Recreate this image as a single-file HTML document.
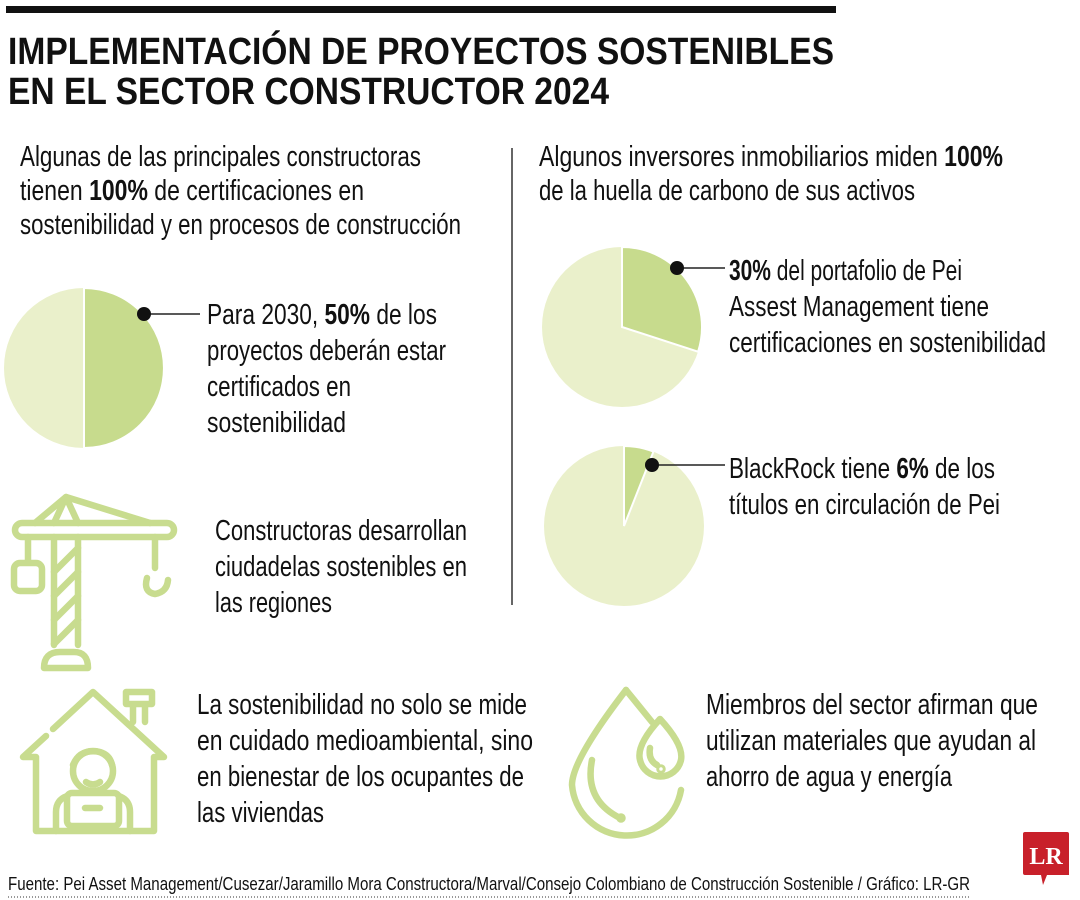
<!DOCTYPE html>
<html><head><meta charset="utf-8"><style>
html,body{margin:0;padding:0;background:#fff;}
svg{display:block;}
text{font-family:"Liberation Sans Narrow","Liberation Sans",sans-serif;fill:#111;}
.t{font-size:29px;}
.b{font-weight:bold;}
</style></head><body>
<svg id="chart" width="1080" height="900" viewBox="0 0 1080 900" xmlns="http://www.w3.org/2000/svg">
<rect x="6" y="6" width="830" height="7" fill="#111"/>
<text x="8" y="64" font-size="38" font-weight="bold" textLength="826" lengthAdjust="spacingAndGlyphs" style="font-family:'Liberation Sans',sans-serif">IMPLEMENTACIÓN DE PROYECTOS SOSTENIBLES</text>
<text x="8" y="104" font-size="38" font-weight="bold" textLength="601" lengthAdjust="spacingAndGlyphs" style="font-family:'Liberation Sans',sans-serif">EN EL SECTOR CONSTRUCTOR 2024</text>

<g>
<text class="t" x="20" y="166" textLength="401" lengthAdjust="spacingAndGlyphs">Algunas de las principales constructoras</text>
<text class="t" x="20" y="200" textLength="344" lengthAdjust="spacingAndGlyphs">tienen <tspan class="b">100%</tspan> de certificaciones en</text>
<text class="t" x="20" y="234" textLength="441" lengthAdjust="spacingAndGlyphs">sostenibilidad y en procesos de construcción</text>
</g>
<g>
<text class="t" x="539" y="166" textLength="464" lengthAdjust="spacingAndGlyphs">Algunos inversores inmobiliarios miden <tspan class="b">100%</tspan></text>
<text class="t" x="539" y="200" textLength="376" lengthAdjust="spacingAndGlyphs">de la huella de carbono de sus activos</text>
</g>
<line x1="512" y1="148" x2="512" y2="605" stroke="#333" stroke-width="1.5"/>

<g id="pies"></g>

<g>
<text class="t" x="207" y="324" textLength="230" lengthAdjust="spacingAndGlyphs">Para 2030, <tspan class="b">50%</tspan> de los</text>
<text class="t" x="207" y="360" textLength="239" lengthAdjust="spacingAndGlyphs">proyectos deberán estar</text>
<text class="t" x="207" y="396" textLength="144" lengthAdjust="spacingAndGlyphs">certificados en</text>
<text class="t" x="207" y="432" textLength="139" lengthAdjust="spacingAndGlyphs">sostenibilidad</text>
</g>
<g>
<text class="t" x="729" y="280" textLength="233" lengthAdjust="spacingAndGlyphs"><tspan class="b">30%</tspan> del portafolio de Pei</text>
<text class="t" x="729" y="316" textLength="260" lengthAdjust="spacingAndGlyphs">Assest Management tiene</text>
<text class="t" x="729" y="352" textLength="317" lengthAdjust="spacingAndGlyphs">certificaciones en sostenibilidad</text>
</g>
<g>
<text class="t" x="729" y="478" textLength="266" lengthAdjust="spacingAndGlyphs">BlackRock tiene <tspan class="b">6%</tspan> de los</text>
<text class="t" x="729" y="514" textLength="271" lengthAdjust="spacingAndGlyphs">títulos en circulación de Pei</text>
</g>

<g fill="none" stroke="#c8dc8f" stroke-width="6.5" stroke-linecap="round" stroke-linejoin="round">
<rect x="15" y="523" width="159" height="14" rx="7"/>
<path d="M35 523 L66 497 L150 523"/>
<path d="M54 537 V645 M78 537 V645 M54 523 L66 497 L78 523"/>
<path d="M78 548 L54 572 M78 572 L54 596 M78 596 L54 620 M78 620 L54 644"/>
<path d="M44 668 Q44 652 60 652 H74 Q88 652 88 668 Z"/>
<path d="M28 537 V560"/><rect x="14" y="563" width="28" height="28" rx="6"/>
<path d="M155 537 V568"/><path d="M147 578 Q143 592 155 594 Q167 592 168 580"/>
</g>
<g>
<text class="t" x="215" y="540" textLength="252" lengthAdjust="spacingAndGlyphs">Constructoras desarrollan</text>
<text class="t" x="215" y="576" textLength="252" lengthAdjust="spacingAndGlyphs">ciudadelas sostenibles en</text>
<text class="t" x="215" y="612" textLength="117" lengthAdjust="spacingAndGlyphs">las regiones</text>
</g>

<g fill="none" stroke="#c8dc8f" stroke-width="6.5" stroke-linecap="round" stroke-linejoin="round">
<path d="M53 729 L93 692 L164 757 L154 757 V831 H36 V757 L23 757 L46 736"/>
<path d="M133 722 V704 M126 692 H152 V704 H126 Z M145 704 V722"/>
<circle cx="93" cy="771" r="20"/>
<path d="M73 765 Q80 748 100 752 Q110 755 112 765"/>
<path d="M86 782 Q93 787 100 782"/>
<rect x="67" y="793" width="52" height="33" rx="5"/>
<path d="M85 808 H100 M56 831 V812 Q56 800 67 796 M130 831 V812 Q130 800 119 796"/>
</g>
<g>
<text class="t" x="197" y="714" textLength="330" lengthAdjust="spacingAndGlyphs">La sostenibilidad no solo se mide</text>
<text class="t" x="197" y="750" textLength="336" lengthAdjust="spacingAndGlyphs">en cuidado medioambiental, sino</text>
<text class="t" x="197" y="786" textLength="327" lengthAdjust="spacingAndGlyphs">en bienestar de los ocupantes de</text>
<text class="t" x="197" y="822" textLength="127" lengthAdjust="spacingAndGlyphs">las viviendas</text>
</g>

<g fill="none" stroke="#c8dc8f" stroke-width="6.5" stroke-linecap="round" stroke-linejoin="round">
<path d="M626 690 Q572 760 572 785 A55 55 0 0 0 681 790"/>
<path d="M626 690 L652 722"/>
<path d="M660 719 Q636 745 640 760 A21 21 0 0 0 681 760 Q684 745 660 719 Z"/>
<path d="M592 760 Q584 800 620 818"/>
<path d="M650 748 Q648 760 657 765"/>
<circle cx="661" cy="769" r="1.5"/><circle cx="621" cy="818" r="1.5"/>
</g>
<g>
<text class="t" x="706" y="714" textLength="332" lengthAdjust="spacingAndGlyphs">Miembros del sector afirman que</text>
<text class="t" x="706" y="750" textLength="330" lengthAdjust="spacingAndGlyphs">utilizan materiales que ayudan al</text>
<text class="t" x="706" y="786" textLength="246" lengthAdjust="spacingAndGlyphs">ahorro de agua y energía</text>
</g>

<text x="8" y="890" font-size="18" textLength="962" lengthAdjust="spacingAndGlyphs">Fuente: Pei Asset Management/Cusezar/Jaramillo Mora Constructora/Marval/Consejo Colombiano de Construcción Sostenible / Gráfico: LR-GR</text>
<line x1="8" y1="897" x2="970" y2="897" stroke="#777" stroke-width="1.5" stroke-dasharray="1,2"/>
<g>
<path d="M1025 832 H1067 Q1069 832 1069 834 V875 H1047 L1043 885 L1041 875 H1025 Q1023 875 1023 873 V834 Q1023 832 1025 832 Z" fill="#c8202a"/>
<text x="1046" y="864" font-size="24" font-weight="bold" text-anchor="middle" style="font-family:'Liberation Serif',serif;fill:#fff">LR</text>
</g>
</svg>
<script>
const pieNames = ['pie-construction', 'pie-pei', 'pie-blackrock'];
const pieValues = [50, 30, 6];
const pieCenters = [[84,368],[622,327],[624,526]];
const R = 80;
const NS = 'http://www.w3.org/2000/svg';
const g = document.getElementById('pies');
function pt(c, frac){const a = frac*2*Math.PI - Math.PI/2; return [c[0]+R*Math.cos(a), c[1]+R*Math.sin(a)];}
pieValues.forEach((v,i)=>{
  const c = pieCenters[i];
  const bg = document.createElementNS(NS,'circle');
  
  
  bg.setAttribute('cx', c[0]); bg.setAttribute('cy', c[1]); bg.setAttribute('r', R);
  bg.setAttribute('fill', '#eaf0cb');
  g.appendChild(bg);
  const f = v/100;
  const p0 = pt(c,0), p1 = pt(c,f);
  const s = document.createElementNS(NS,'path');
  
  
  s.setAttribute('d', `M${c[0]} ${c[1]} L${p0[0]} ${p0[1]} A${R} ${R} 0 ${f>0.5?1:0} 1 ${p1[0]} ${p1[1]} Z`);
  s.setAttribute('fill', '#c7db8d');
  s.setAttribute('stroke', '#fff'); s.setAttribute('stroke-width', '2');
  g.appendChild(s);
});
const leaders = [[144,314,200,314],[677,268,725,268],[652,465,725,465]];
leaders.forEach((l,i)=>{
  const ln = document.createElementNS(NS,'line');
  
  
  ln.setAttribute('x1',l[0]); ln.setAttribute('y1',l[1]); ln.setAttribute('x2',l[2]); ln.setAttribute('y2',l[3]);
  ln.setAttribute('stroke','#222'); ln.setAttribute('stroke-width','1.5');
  g.appendChild(ln);
  const d = document.createElementNS(NS,'circle');
  
  
  d.setAttribute('cx',l[0]); d.setAttribute('cy',l[1]); d.setAttribute('r','7');
  d.setAttribute('fill','#111');
  g.appendChild(d);
});
</script>
</body></html>
